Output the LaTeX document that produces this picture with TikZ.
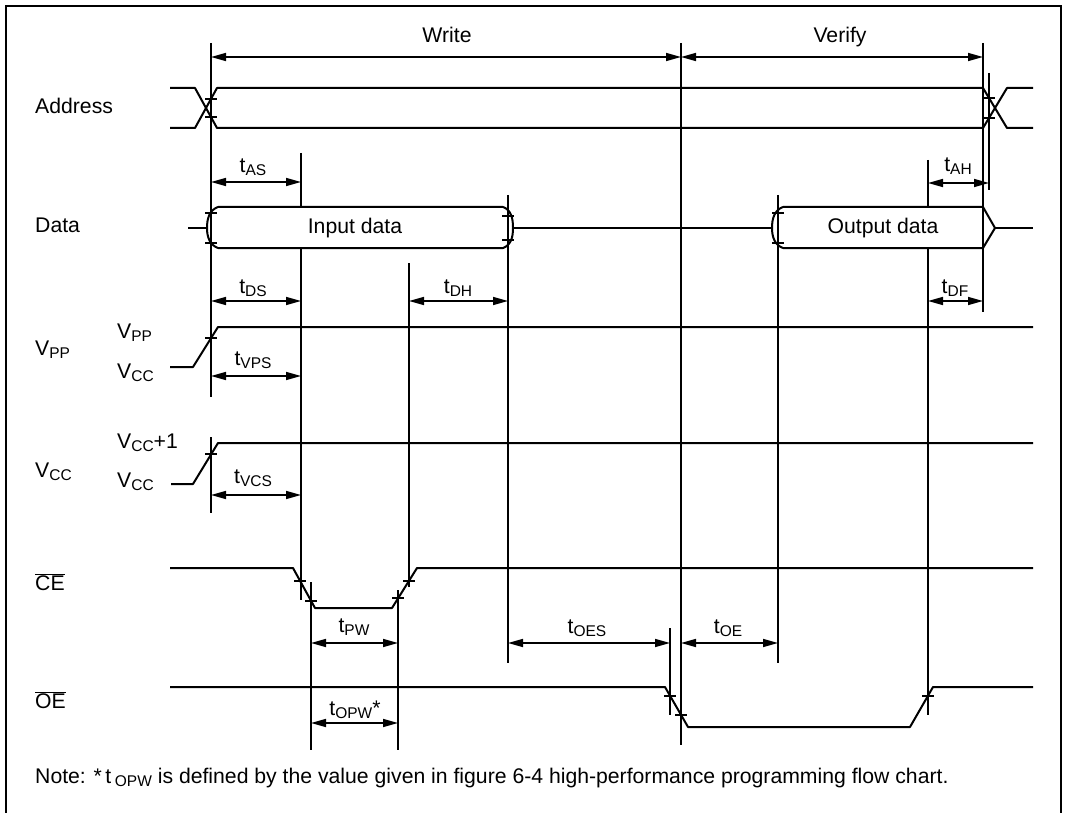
\documentclass[tikz,border=0pt]{standalone}
\usepackage{fontspec}
\setmainfont{Liberation Sans}
\usetikzlibrary{arrows.meta}

\newcommand{\sub}[1]{\raisebox{-3pt}{\fontsize{15.5}{15.5}\selectfont #1}}
\newcommand{\ovl}[1]{$\overline{\hbox{#1}}$}

\begin{document}
\begin{tikzpicture}[
    x=1pt, y=-1pt,
    every node/.style={font=\fontsize{21.2}{25}\selectfont, inner sep=0pt},
    sig/.style={line width=2pt, line join=round},
    refl/.style={line width=1.6pt},
    dim/.style={{Triangle[length=15pt,width=8pt]}-{Triangle[length=15pt,width=8pt]}, line width=1.6pt},
    lbl/.style={anchor=base west},
    tlbl/.style={anchor=base}
]
\useasboundingbox (0,0) rectangle (1065,813);

% Frame
\draw[line width=2pt] (6,813) -- (6,6) -- (1061,6) -- (1061,813);

% Phases
\draw[dim] (211,57) -- (681,57);
\draw[dim] (681,57) -- (983,57);
\node[tlbl] (write) at (447,43) {Write};
\node[tlbl] (verify) at (840,43) {Verify};

% Reference lines
\draw[refl] (211,43) -- (211,397);
\draw[refl] (211,437) -- (211,513);
\draw[refl] (301,153) -- (301,207);
\draw[refl] (301,248) -- (301,600);
\draw[refl] (311,582) -- (311,750);
\draw[refl] (398,590) -- (398,750);
\draw[refl] (409,263) -- (409,587);
\draw[refl] (508,195) -- (508,663);
\draw[refl] (670,628) -- (670,715);
\draw[refl] (681,43) -- (681,745);
\draw[refl] (778,195) -- (778,663);
\draw[refl] (928,160) -- (928,207);
\draw[refl] (928,248) -- (928,715);
\draw[refl] (983,43) -- (983,312);
\draw[refl] (989,73) -- (989,190);

% Signal names
\node[lbl] (lb-addr) at (35,114) {Address};
\node[lbl] (lb-data) at (35,233) {Data};
\node[lbl] (lb-vpp) at (35,355) {V\sub{PP}};
\node[lbl] (lb-vcc) at (35,477) {V\sub{CC}};
\node[lbl] (lb-ce) at (35,590) {\ovl{CE}};
\node[lbl] (lb-oe) at (35,708) {\ovl{OE}};

% Levels
\node[lbl] (vpp-hi) at (117,338) {V\sub{PP}};
\node[lbl] (vpp-lo) at (117,378) {V\sub{CC}};
\node[lbl] (vcc-hi) at (117,448) {V\sub{CC}+1};
\node[lbl] (vcc-lo) at (117,487) {V\sub{CC}};

% Address
\draw[sig] (170,88) -- (195,88) -- (217,128) -- (983,128) -- (1007,88) -- (1033,88);
\draw[sig] (170,128) -- (195,128) -- (217,88) -- (983,88) -- (1007,128) -- (1033,128);

% Data
\draw[sig] (188,228) -- (207,228);
\draw[sig] (218,207) to[out=200,in=90] (207,228) to[out=-90,in=160] (218,248)
    -- (503,248) to[out=20,in=-90] (513,228) to[out=90,in=-20] (503,207) -- cycle;
\draw[sig] (513,228) -- (772,228);
\draw[sig] (783,207) to[out=200,in=90] (772,228) to[out=-90,in=160] (783,248)
    -- (983,248) -- (995,228) -- (983,207) -- cycle;
\draw[sig] (995,228) -- (1033,228);
\node (in-data) at (355,228) {Input data};
\node (out-data) at (883,228) {Output data};

% VPP and VCC
\draw[sig] (170,367) -- (193,367) -- (218,327) -- (1033,327);
\draw[sig] (171,484) -- (193,484) -- (218,443) -- (1033,443);

% CE and OE
\draw[sig] (170,568) -- (293,568) -- (315,608) -- (392,608) -- (417,568) -- (1033,568);
\draw[sig] (170,687) -- (665,687) -- (688,727) -- (910,727) -- (933,687) -- (1033,687);

% Crossing marks
\foreach \x/\y in {211/99, 211/117, 989/98, 989/118, 211/213, 211/243, 508/216, 508/240,
    778/213, 778/243, 211/338, 211/454, 300/581, 311/601, 398/598, 409/581,
    670/696, 681/715, 928/696}
  \draw[refl] (\x-6,\y) -- (\x+6,\y);

% Timing arrows
\draw[dim] (211,182) -- (301,182);
\draw[dim] (928,183) -- (989,183);
\draw[dim] (211,301) -- (301,301);
\draw[dim] (409,301) -- (508,301);
\draw[dim] (928,301) -- (983,301);
\draw[dim] (211,376) -- (301,376);
\draw[dim] (211,495) -- (301,495);
\draw[dim] (311,643) -- (398,643);
\draw[dim] (508,643) -- (670,643);
\draw[dim] (681,643) -- (778,643);
\draw[dim] (311,723) -- (398,723);

\node[tlbl] (t-as) at (253,173) {t\sub{AS}};
\node[tlbl] (t-ah) at (958,172) {t\sub{AH}};
\node[tlbl] (t-ds) at (253,293) {t\sub{DS}};
\node[tlbl] (t-dh) at (458,293) {t\sub{DH}};
\node[tlbl] (t-df) at (955,293) {t\sub{DF}};
\node[tlbl] (t-vps) at (253,365) {t\sub{VPS}};
\node[tlbl] (t-vcs) at (253,483) {t\sub{VCS}};
\node[tlbl] (t-pw) at (354,632) {t\sub{PW}};
\node[tlbl] (t-oes) at (587,633) {t\sub{OES}};
\node[tlbl] (t-oe) at (728,633) {t\sub{OE}};
\node[tlbl] (t-opw) at (355,715) {t\sub{OPW}*};

% Note
\node[lbl] (note) at (35,783) {Note: *\,t\,\sub{OPW} is defined by the value given in figure 6-4 high-performance programming flow chart.};
\end{tikzpicture}
\end{document}
